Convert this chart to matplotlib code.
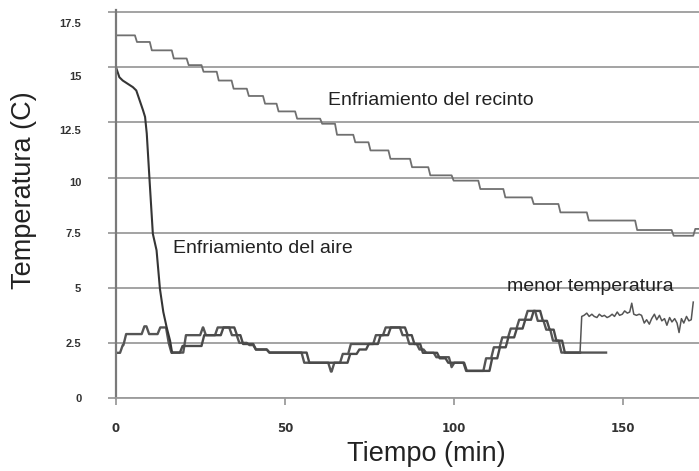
import numpy as np
import matplotlib
matplotlib.use("Agg")
import matplotlib.pyplot as plt
from matplotlib.transforms import ScaledTranslation

# ---------------- data ----------------
# Room cooling (step series: start time of each level, level value; last entry = end)
recinto_t = [0, 5.6, 10, 16.5, 20.9, 25.3, 29.8, 34.2, 38.7, 43.5, 47.5, 53, 60.4, 64.8,
             70.2, 74.7, 80.6, 87, 92.4, 99.3, 107.2, 114.6, 123, 130.9, 139.3, 153.6,
             164.4, 170.8, 172.5]
recinto_v = [16.45, 16.15, 15.77, 15.4, 15.1, 14.8, 14.4, 14.03, 13.7, 13.35, 13.0, 12.67,
             12.44, 11.94, 11.6, 11.23, 10.85, 10.47, 10.1, 9.86, 9.48, 9.1, 8.8, 8.42,
             8.05, 7.62, 7.36, 7.67, 7.67]

# Air cooling: initial fall (sampled line)
aire_t = [0, 1, 2, 3, 4, 5, 6, 7, 8, 8.6, 9.1, 10.0, 10.9, 12.0, 13.0, 14.0, 15.0, 16.0, 16.6]
aire_v = [15.0, 14.55, 14.4, 14.3, 14.2, 14.1, 13.95, 13.5, 13.05, 12.75, 12.0, 9.7, 7.45,
          6.7, 4.95, 3.9, 3.2, 2.6, 2.06]

# Air cooling: afterwards (step series)
aire_bajo_t = [16.6, 18.9, 25.3, 31.0, 35.0, 36.8, 40.6, 44.6, 56.4, 68.5, 71.2, 74.0, 77.5,
               80.5, 85.5, 87.5, 90.0, 95.0, 97.5, 103.0, 110.5, 112.8, 115.3, 117.8, 120.3,
               122.8, 125.5, 127.5, 129.5, 132.0, 137.3]
aire_bajo_v = [2.06, 2.36, 2.85, 3.2, 2.85, 2.45, 2.2, 2.06, 1.6, 2.0, 2.2, 2.45, 2.85,
               3.2, 2.85, 2.45, 2.05, 1.8, 1.6, 1.23, 1.8, 2.3, 2.75, 3.15, 3.55,
               3.95, 3.5, 3.1, 2.6, 2.06, 2.06]

# Second sensor (step series)
sensor_t = [0, 1.2, 2.2, 7.6, 9.0, 12.3, 14.8, 15.6, 19.9, 24.9, 25.8, 29.3, 33.5, 35.7,
            38.7, 40.6, 44.6, 54.9, 62.8, 63.8, 66.3, 68.7, 76.1, 79.0, 84.0, 86.0, 89.0,
            91.0, 94.0, 98.5, 99.3, 102.8, 108.7, 111.0, 113.5, 116.0, 118.5, 121.0, 124.0,
            126.5, 128.5, 131.0, 145.0]
sensor_v = [2.05, 2.4, 2.9, 3.25, 2.9, 3.2, 2.5, 2.06, 2.85, 3.2, 2.85, 3.2, 2.85, 2.5,
            2.4, 2.2, 2.06, 1.6, 1.2, 1.6, 2.0, 2.45, 2.85, 3.2, 2.85, 2.45, 2.2,
            2.05, 1.85, 1.4, 1.6, 1.23, 1.8, 2.3, 2.75, 3.15, 3.55, 3.95, 3.5,
            3.1, 2.6, 2.06, 2.06]

# Lowest temperature (noisy line)
menor_t = [137.3, 137.8, 138.5, 139.3, 140.0, 140.8, 141.5, 142.3, 143.0, 143.8, 144.5,
           145.3, 146.0, 146.8, 147.5, 148.3, 149.0, 149.8, 150.5, 151.3, 152.0, 152.6,
           153.2, 154.0, 154.8, 155.5, 156.3, 157.0, 157.8, 158.5, 159.3, 160.0, 160.8,
           161.5, 162.3, 163.0, 163.8, 164.5, 165.3, 166.0, 166.6, 167.3, 168.0, 168.8,
           169.5, 170.2, 170.8]
menor_v = [2.06, 3.7, 3.75, 3.85, 3.7, 3.8, 3.7, 3.65, 3.8, 3.7, 3.75, 3.65, 3.7, 3.8,
           3.7, 3.9, 3.75, 3.8, 3.95, 3.85, 3.9, 4.3, 3.8, 3.75, 3.8, 3.75, 3.4, 3.55,
           3.35, 3.6, 3.8, 3.55, 3.75, 3.5, 3.6, 3.3, 3.65, 3.45, 3.6, 3.4, 2.97, 3.6,
           3.4, 3.7, 3.5, 3.55, 4.35]

y_ticks = [0, 2.5, 5, 7.5, 10, 12.5, 15, 17.5]
y_ticklabels = ["0", "2.5", "5", "7.5", "10", "12.5", "15", "17.5"]
x_ticks = [0, 50, 100, 150]
x_ticklabels = ["0", "50", "100", "150"]

labels = {
    "recinto": "Enfriamiento del recinto",
    "aire": "Enfriamiento del aire",
    "menor": "menor temperatura",
}


def ramp_steps(t, v, ramp):
    """Step line with slightly slanted risers (like the logger plot)."""
    xs, ys = [t[0]], [v[0]]
    for i in range(len(t) - 1):
        xs.append(t[i + 1])
        ys.append(v[i])
        if i + 1 < len(t) - 1:
            xs.append(t[i + 1] + ramp)
            ys.append(v[i + 1])
    return xs, ys


# ---------------- figure ----------------
fig = plt.figure(figsize=(6.99, 4.71), dpi=100)
ax = fig.add_axes([116 / 699, (471 - 398) / 471, (699 - 116) / 699, 388 / 471])
ax.set_xlim(0, 172.5)
ax.set_ylim(0, 17.6)

grid_c = "#9c9c9c"
ax.set_yticks(y_ticks)
ax.set_yticklabels(y_ticklabels)
ax.set_xticks(x_ticks)
ax.set_xticklabels(x_ticklabels)
ax.yaxis.grid(True, color=grid_c, lw=1.3)
ax.set_axisbelow(True)

for s in ["top", "right"]:
    ax.spines[s].set_visible(False)
ax.spines["left"].set_color("#7a7a7a")
ax.spines["left"].set_linewidth(1.6)
ax.spines["bottom"].set_color(grid_c)
ax.spines["bottom"].set_linewidth(1.3)

ax.tick_params(axis="y", direction="out", length=6, width=1.3, color=grid_c, pad=19)
ax.tick_params(axis="x", direction="out", length=5, width=1.3, color=grid_c, pad=12)

# the scanned original has its upper y labels sitting slightly below their gridlines
label_shift_px = [0, 0, 0, 0, -4, -8, -9, -11]
for lab, dy in zip(ax.get_yticklabels(), label_shift_px):
    lab.set_fontfamily("Liberation Sans")
    lab.set_fontweight("bold")
    lab.set_fontsize(8)
    lab.set_color("#333333")
    lab.set_transform(lab.get_transform() + ScaledTranslation(0, dy / 100, fig.dpi_scale_trans))
for lab in ax.get_xticklabels():
    lab.set_fontfamily("DejaVu Sans")
    lab.set_fontweight("bold")
    lab.set_fontsize(8.5)
    lab.set_color("#333333")

# series
rx, ry = ramp_steps(recinto_t, recinto_v, 0.6)
ax.plot(rx, ry, color="#707070", lw=1.3)

sx, sy = ramp_steps(sensor_t, sensor_v, 0.8)
ax.plot(sx, sy, color="#555555", lw=1.7)

ax.plot(aire_t, aire_v, color="#353535", lw=1.5)
bx, by = ramp_steps(aire_bajo_t, aire_bajo_v, 0.8)
ax.plot(bx, by, color="#4a4a4a", lw=1.7)

ax.plot(menor_t, menor_v, color="#555555", lw=1.1)

# annotations
txt_kw = dict(fontsize=14, family="Liberation Sans", color="#222222", va="center", ha="left")
ax.text(62.7, 13.5, labels["recinto"], **txt_kw)
ax.text(16.9, 6.77, labels["aire"], **txt_kw)
ax.text(115.7, 5.05, labels["menor"], **txt_kw)

# axis labels
ax.set_ylabel("Temperatura (C)", fontsize=19.5, family="Liberation Sans", color="#222222")
ax.yaxis.label.set_va("center")
ax.yaxis.set_label_coords(-0.158, 0.535)
ax.set_xlabel("Tiempo (min)", fontsize=19.5, family="Liberation Sans", color="#222222")
ax.xaxis.label.set_va("center")
ax.xaxis.set_label_coords(0.532, -0.145)

fig.savefig("out.png", dpi=100)
